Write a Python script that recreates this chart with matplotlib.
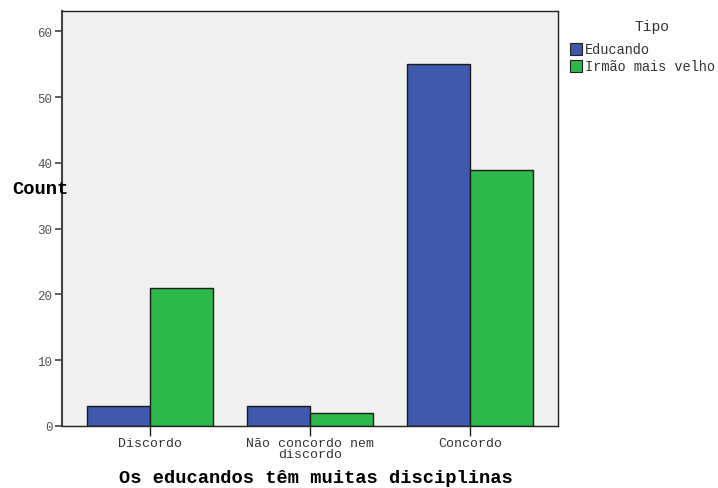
import numpy as np
import matplotlib.pyplot as plt
from matplotlib.patches import Rectangle

plt.rcParams['font.family'] = ['Liberation Mono', 'DejaVu Sans Mono']

categories = ['Discordo', 'Não concordo nem\ndiscordo', 'Concordo']
educando = [3, 3, 55]
irmao = [21, 2, 39]
series_names = ['Educando', 'Irmão mais velho']
colors = ['#3e58ac', '#2db84a']

fig = plt.figure(figsize=(7.18, 4.89), dpi=100)
ax = fig.add_axes([62 / 718, 62 / 489, 496 / 718, 415 / 489])
ax.set_facecolor('#f0f0f0')

x = np.arange(len(categories))
w = 0.394
ax.bar(x - w / 2, educando, w, color=colors[0], edgecolor='#1a1a1a', linewidth=1.0)
ax.bar(x + w / 2, irmao, w, color=colors[1], edgecolor='#1a1a1a', linewidth=1.0)

ax.set_xlim(-0.55, 2.55)
ax.set_ylim(0, 63.1)
ax.set_yticks(np.arange(0, 61, 10))
ax.set_xticks(x)
ax.set_xticklabels(categories, linespacing=0.85)
ax.tick_params(axis='y', direction='out', length=5, width=1.2, color='#444444',
               labelsize=9, labelcolor='#555555', pad=2)
ax.tick_params(axis='x', direction='out', length=7, width=1.0, color='#222222',
               labelsize=9.5, labelcolor='#333333', pad=1)
for s in ax.spines.values():
    s.set_color('#222222')
    s.set_linewidth(1.0)
ax.spines['left'].set_linewidth(1.5)
ax.spines['left'].set_color('#444444')

fig.text(316 / 718, 1 - 479 / 489, 'Os educandos têm muitas disciplinas', fontsize=13.5,
         fontweight='bold', ha='center', va='center')
fig.text(12 / 718, 1 - 190 / 489, 'Count', fontsize=13.5, fontweight='bold',
         ha='left', va='center')

# legend
fig.text(652 / 718, 1 - 27 / 489, 'Tipo', fontsize=10.5, ha='center', va='center',
         color='#333333')
for i, name in enumerate(series_names):
    yc = 50 + 17 * i
    fig.patches.append(Rectangle((570 / 718, 1 - (yc + 6) / 489), 12 / 718, 12 / 489,
                                 transform=fig.transFigure, facecolor=colors[i],
                                 edgecolor='#222222', linewidth=0.8))
    fig.text(585 / 718, 1 - yc / 489, name, fontsize=9.8, ha='left', va='center',
             color='#333333')

fig.savefig('out.png', dpi=100)
